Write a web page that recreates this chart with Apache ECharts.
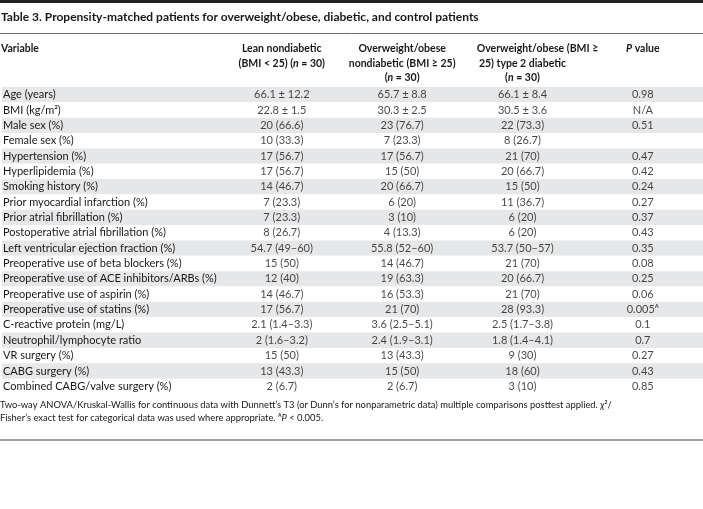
<!DOCTYPE html>
<html><head><meta charset="utf-8">
<script src="https://cdn.jsdelivr.net/npm/echarts@6/dist/echarts.min.js"></script>
<style>html,body{margin:0;padding:0;background:#fff}#c{width:703px;height:509px}</style>
</head><body><div id="c"></div>
<script>
const tableTitle = 'Table 3. Propensity-matched patients for overweight/obese, diabetic, and control patients';
const variableHeader = 'Variable';
const columnHeaders = [
  'Lean nondiabetic\n(BMI < 25) (n = 30)',
  'Overweight/obese\nnondiabetic (BMI ≥ 25)\n(n = 30)',
  'Overweight/obese (BMI ≥\n25) type 2 diabetic\n(n = 30)',
  'P value'
];
const variables = [
  'Age (years)', 'BMI (kg/m²)', 'Male sex (%)', 'Female sex (%)', 'Hypertension (%)',
  'Hyperlipidemia (%)', 'Smoking history (%)', 'Prior myocardial infarction (%)',
  'Prior atrial fibrillation (%)', 'Postoperative atrial fibrillation (%)',
  'Left ventricular ejection fraction (%)', 'Preoperative use of beta blockers (%)',
  'Preoperative use of ACE inhibitors/ARBs (%)', 'Preoperative use of aspirin (%)',
  'Preoperative use of statins (%)', 'C-reactive protein (mg/L)', 'Neutrophil/lymphocyte ratio',
  'VR surgery (%)', 'CABG surgery (%)', 'Combined CABG/valve surgery (%)'
];
const leanValues = [
  '66.1 ± 12.2', '22.8 ± 1.5', '20 (66.6)', '10 (33.3)', '17 (56.7)', '17 (56.7)', '14 (46.7)',
  '7 (23.3)', '7 (23.3)', '8 (26.7)', '54.7 (49–60)', '15 (50)', '12 (40)', '14 (46.7)',
  '17 (56.7)', '2.1 (1.4–3.3)', '2 (1.6–3.2)', '15 (50)', '13 (43.3)', '2 (6.7)'
];
const overweightValues = [
  '65.7 ± 8.8', '30.3 ± 2.5', '23 (76.7)', '7 (23.3)', '17 (56.7)', '15 (50)', '20 (66.7)',
  '6 (20)', '3 (10)', '4 (13.3)', '55.8 (52–60)', '14 (46.7)', '19 (63.3)', '16 (53.3)',
  '21 (70)', '3.6 (2.5–5.1)', '2.4 (1.9–3.1)', '13 (43.3)', '15 (50)', '2 (6.7)'
];
const diabeticValues = [
  '66.1 ± 8.4', '30.5 ± 3.6', '22 (73.3)', '8 (26.7)', '21 (70)', '20 (66.7)', '15 (50)',
  '11 (36.7)', '6 (20)', '6 (20)', '53.7 (50–57)', '21 (70)', '20 (66.7)', '21 (70)',
  '28 (93.3)', '2.5 (1.7–3.8)', '1.8 (1.4–4.1)', '9 (30)', '18 (60)', '3 (10)'
];
const pValues = [
  '0.98', 'N/A', '0.51', '', '0.47', '0.42', '0.24', '0.27', '0.37', '0.43', '0.35', '0.08',
  '0.25', '0.06', '0.005ᴬ', '0.1', '0.7', '0.27', '0.43', '0.85'
];
const footnoteLine1 = 'Two-way ANOVA/Kruskal-Wallis for continuous data with Dunnett’s T3 (or Dunn’s for nonparametric data) multiple comparisons posttest applied. ';
const footnoteLine2 = 'Fisher’s exact test for categorical data was used where appropriate. ᴬ';

const columns = [leanValues, overweightValues, diabeticValues, pValues];

const FONT = 'Lato';
const TXT = '#1a1718';
const ROW_H = 15.35;
const TOP = 87;

function headerRich(s) {
  if (s === 'P value') return '{bi|P}{b| value}';
  return s.split('\n').map((line, li) => {
    const m = line.split('(n = 30)');
    if (m.length === 1) return (line.endsWith('≥') ? '{bs|' : '{b|') + line + '}';
    return (m[0] ? '{b|' + m[0] + '(}' : '{b|(}') + '{bi|n}{b| = 30)}';
  }).join('\n');
}

const chart = echarts.init(document.getElementById('c'), null, {renderer: 'canvas'});
const rowCats = variables.map((v, i) => String(i));
const hb = {fontFamily: FONT, fontSize: 10.5, fontWeight: 'bold', color: TXT, lineHeight: 14.5};
const FN = 9.4;

chart.setOption({
  animation: false,
  backgroundColor: '#ffffff',
  textStyle: {fontFamily: FONT, color: TXT},
  title: [
    {text: tableTitle, left: 1, top: 9, padding: 0,
     textStyle: {fontFamily: FONT, fontSize: 12, fontWeight: 'bold', color: TXT, lineHeight: 16}},
    {text: variableHeader, left: 1, top: 41.75, padding: 0,
     textStyle: {fontFamily: FONT, fontSize: 10.5, fontWeight: 'bold', color: TXT, lineHeight: 14.5}},
    {text: '{t|' + footnoteLine1 + '}{i|χ}{t|²/}\n{t|' + footnoteLine2 + '}{i|P}{t| < 0.005.}',
     left: 0, top: 398, padding: 0,
     textStyle: {fontFamily: FONT, fontSize: FN, fontWeight: 'normal', color: TXT, lineHeight: 13.5,
       rich: {
         t: {fontFamily: FONT, fontSize: FN, fontWeight: 'normal', color: TXT, lineHeight: 13.5},
         i: {fontFamily: FONT, fontSize: FN, fontWeight: 'normal', color: TXT, fontStyle: 'italic', lineHeight: 13.5}
       }}}
  ],
  graphic: [
    {type: 'rect', shape: {x: 0, y: 0, width: 703, height: 3}, style: {fill: '#231f20'}},
    {type: 'line', shape: {x1: 0, y1: 33.5, x2: 703, y2: 33.5}, style: {stroke: '#6d6e71', lineWidth: 1}},
    {type: 'line', shape: {x1: 0, y1: 440, x2: 703, y2: 440}, style: {stroke: '#808285', lineWidth: 1.5}}
  ],
  grid: [
    {left: 0, right: 0, top: TOP, height: ROW_H * variables.length},
    {left: 221.6, width: 482.8, top: TOP, height: ROW_H * variables.length}
  ],
  xAxis: [
    {gridIndex: 0, type: 'value', min: 0, max: 1, show: false},
    {gridIndex: 1, type: 'category', data: columnHeaders, position: 'top',
     axisLine: {show: false}, axisTick: {show: false}, splitLine: {show: false},
     axisLabel: {interval: 0, margin: 45.25, verticalAlign: 'top', align: 'center',
       formatter: v => headerRich(v),
       rich: {
         b: hb,
         bs: Object.assign({}, hb, {padding: [0, 0, 0, 30]}),
         bi: Object.assign({}, hb, {fontStyle: 'italic'})
       }}}
  ],
  yAxis: [
    {gridIndex: 0, type: 'category', data: variables, inverse: true,
     axisLine: {show: false}, axisTick: {show: false}, splitLine: {show: false},
     splitArea: {show: true, interval: 0, areaStyle: {color: ['#e6e7e8', '#ffffff']}},
     axisLabel: {inside: true, align: 'left', margin: 1, interval: 0,
       fontFamily: FONT, fontSize: 11, color: TXT}},
    {gridIndex: 1, type: 'category', data: rowCats, inverse: true, show: false}
  ],
  series: columns.map((col, c) => ({
    type: 'scatter', xAxisIndex: 1, yAxisIndex: 1, symbolSize: 0, silent: true,
    data: col.map((v, r) => [c, r]),
    label: {show: true, position: 'inside', fontFamily: FONT, fontSize: 11, color: TXT,
      formatter: p => col[p.dataIndex]}
  }))
});
</script></body></html>
